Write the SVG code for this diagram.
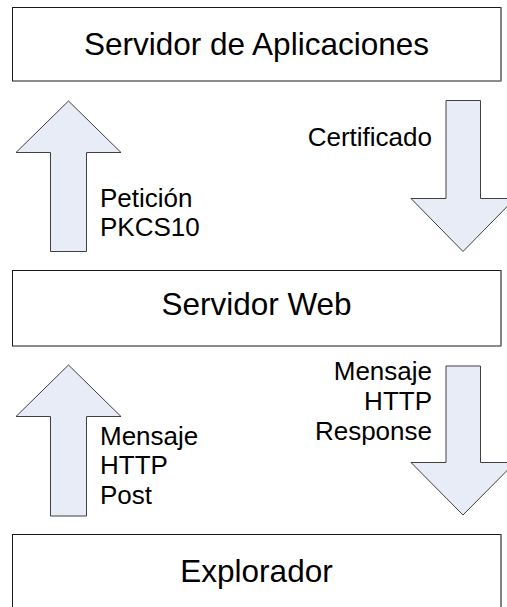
<svg xmlns="http://www.w3.org/2000/svg" width="507" height="607" viewBox="0 0 507 607">
<style>
.box{fill:#fff;stroke:#1a1a1a;stroke-width:1}
.edge{stroke:#808080;stroke-width:1.5}
.arr{fill:#E8ECF6;stroke:#404040;stroke-width:1}
.t{font-family:"Liberation Sans",Arial,sans-serif;fill:#000}
.big{font-size:31.5px;text-anchor:middle}
.sm{font-size:26px}
</style>
<rect width="507" height="607" fill="#fff"/>
<g id="servidor-aplicaciones">
<rect class="box" x="12.5" y="7.5" width="488.5" height="73.5"/>
<line class="edge" x1="501" y1="7.5" x2="501" y2="81"/>
<text class="t big" x="256.5" y="55">Servidor de Aplicaciones</text>
</g>
<g id="servidor-web">
<rect class="box" x="12.5" y="270.5" width="488.5" height="75.5"/>
<line class="edge" x1="501" y1="270.5" x2="501" y2="346"/>
<text class="t big" x="256.5" y="315">Servidor Web</text>
</g>
<g id="explorador">
<rect class="box" x="12.5" y="534.5" width="488.5" height="90"/>
<line class="edge" x1="501" y1="534.5" x2="501" y2="607"/>
<text class="t big" x="256.5" y="581.5">Explorador</text>
</g>
<g id="connectors">
<g id="peticion">
<polygon class="arr" points="68.5,101 121,152.5 86.5,152.5 86.5,251.5 50.5,251.5 50.5,152.5 16,152.5"/>
<text class="t sm" x="100" y="206.5">Petición</text>
<text class="t sm" x="100" y="235.5">PKCS10</text>
</g>
<g id="certificado">
<polygon class="arr" points="446,100.5 480.5,100.5 480.5,198.5 515,198.5 463,251.5 411,198.5 446,198.5"/>
<text class="t sm" x="432" y="146" text-anchor="end">Certificado</text>
</g>
<g id="post">
<polygon class="arr" points="68.5,365 121,416.5 86.5,416.5 86.5,516 50.5,516 50.5,416.5 16,416.5"/>
<text class="t sm" x="100" y="445">Mensaje</text>
<text class="t sm" x="100" y="474">HTTP</text>
<text class="t sm" x="100" y="503.5">Post</text>
</g>
<g id="response">
<polygon class="arr" points="446,366 480.5,366 480.5,462.5 515,462.5 463,515 411,462.5 446,462.5"/>
<text class="t sm" x="432" y="380" text-anchor="end">Mensaje</text>
<text class="t sm" x="432" y="410" text-anchor="end">HTTP</text>
<text class="t sm" x="432" y="440" text-anchor="end">Response</text>
</g>
</g>
</svg>
